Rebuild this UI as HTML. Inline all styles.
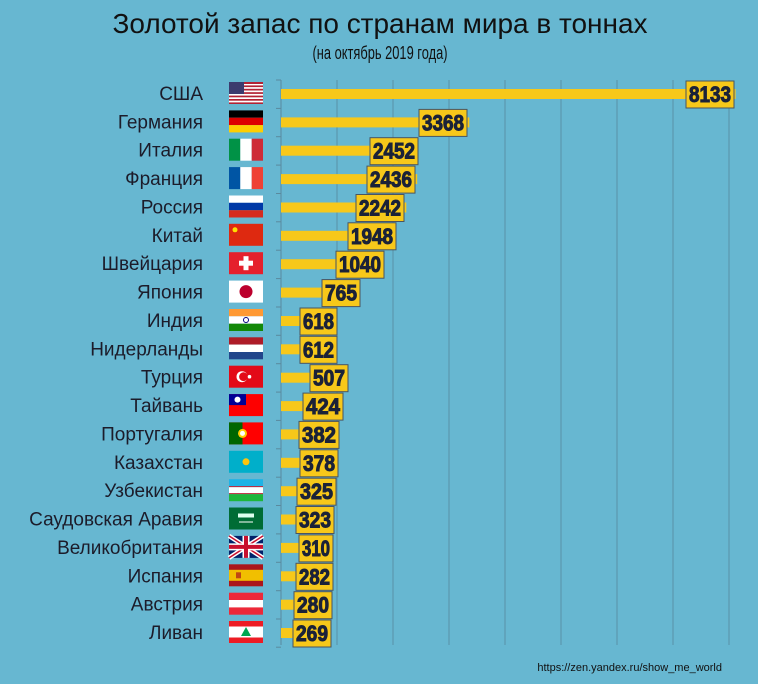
<!DOCTYPE html><html><head><meta charset="utf-8"><style>body{margin:0;background:#67b7d1}svg{display:block}</style></head><body>
<div id="wrap"></div>
<script>
var d=[["США",8133,686,48],["Германия",3368,419,48],["Италия",2452,370,48],["Франция",2436,367,48],["Россия",2242,356,48],["Китай",1948,348,48],["Швейцария",1040,336,48],["Япония",765,322,38],["Индия",618,300,37],["Нидерланды",612,300,37],["Турция",507,310,38],["Тайвань",424,303,40],["Португалия",382,299,40],["Казахстан",378,300,38],["Узбекистан",325,297,39],["Саудовская Аравия",323,296,38],["Великобритания",310,299,34],["Испания",282,296,37],["Австрия",280,294,38],["Ливан",269,293,38]];
var flags=[
'<rect width="34" height="22" fill="#fff"/><g fill="#b22234"><rect y="0" width="34" height="2"/><rect y="3.4" width="34" height="1.7"/><rect y="6.8" width="34" height="1.7"/><rect y="10.2" width="34" height="1.7"/><rect y="13.6" width="34" height="1.7"/><rect y="17" width="34" height="1.7"/><rect y="20.4" width="34" height="1.6"/></g><rect width="15" height="12" fill="#3c3b6e"/>',
'<rect width="34" height="7.3" fill="#000"/><rect y="7.3" width="34" height="7.4" fill="#dd0000"/><rect y="14.7" width="34" height="7.3" fill="#ffce00"/>',
'<rect width="11.3" height="22" fill="#009246"/><rect x="11.3" width="11.4" height="22" fill="#fff"/><rect x="22.7" width="11.3" height="22" fill="#ce2b37"/>',
'<rect width="11.3" height="22" fill="#0055a4"/><rect x="11.3" width="11.4" height="22" fill="#fff"/><rect x="22.7" width="11.3" height="22" fill="#ef4135"/>',
'<rect width="34" height="7.3" fill="#fff"/><rect y="7.3" width="34" height="7.4" fill="#0039a6"/><rect y="14.7" width="34" height="7.3" fill="#d52b1e"/>',
'<rect width="34" height="22" fill="#de2910"/><circle cx="6" cy="6" r="2.5" fill="#ffde00"/>',
'<rect width="34" height="22" fill="#e5202c"/><rect x="14.5" y="4" width="5" height="14" fill="#fff"/><rect x="10" y="8.5" width="14" height="5" fill="#fff"/>',
'<rect width="34" height="22" fill="#fff"/><circle cx="17" cy="11" r="6.5" fill="#bc002d"/>',
'<rect width="34" height="7.3" fill="#ff9933"/><rect y="7.3" width="34" height="7.4" fill="#fff"/><rect y="14.7" width="34" height="7.3" fill="#138808"/><circle cx="17" cy="11" r="2.5" fill="none" stroke="#000080"/>',
'<rect width="34" height="7.3" fill="#ae1c28"/><rect y="7.3" width="34" height="7.4" fill="#fff"/><rect y="14.7" width="34" height="7.3" fill="#21468b"/>',
'<rect width="34" height="22" fill="#e30a17"/><circle cx="13" cy="11" r="5.5" fill="#fff"/><circle cx="14.5" cy="11" r="4.4" fill="#e30a17"/><circle cx="20.5" cy="11" r="1.8" fill="#fff"/>',
'<rect width="34" height="22" fill="#fe0000"/><rect width="17" height="11" fill="#000095"/><circle cx="8.5" cy="5.5" r="3" fill="#fff"/>',
'<rect width="34" height="22" fill="#ff0000"/><rect width="13.5" height="22" fill="#006600"/><circle cx="13.5" cy="11" r="4.5" fill="#ffcc00"/><circle cx="13.5" cy="11" r="2.5" fill="#fff"/>',
'<rect width="34" height="22" fill="#00afca"/><circle cx="17" cy="11" r="3.5" fill="#fec50c"/>',
'<rect width="34" height="7" fill="#1eb3e6"/><rect y="7" width="34" height="1" fill="#ce1126"/><rect y="8" width="34" height="6" fill="#fff"/><rect y="14" width="34" height="1" fill="#ce1126"/><rect y="15" width="34" height="7" fill="#1eb53a"/>',
'<rect width="34" height="22" fill="#006c35"/><rect x="9" y="6" width="16" height="4" fill="#dfe"/><rect x="10" y="14" width="14" height="1" fill="#fff"/>',
'<rect width="34" height="22" fill="#012169"/><path d="M0 0L34 22M34 0L0 22" stroke="#fff" stroke-width="4.5"/><path d="M0 0L34 22M34 0L0 22" stroke="#c8102e" stroke-width="1.5"/><path d="M17 0V22M0 11H34" stroke="#fff" stroke-width="7"/><path d="M17 0V22M0 11H34" stroke="#c8102e" stroke-width="4"/>',
'<rect width="34" height="22" fill="#aa151b"/><rect y="5.5" width="34" height="11" fill="#f1bf00"/><rect x="7" y="8" width="5" height="6" fill="#aa151b" opacity=".7"/>',
'<rect width="34" height="22" fill="#ed2939"/><rect y="7.3" width="34" height="7.4" fill="#fff"/>',
'<rect width="34" height="22" fill="#ed1c24"/><rect y="5.5" width="34" height="11" fill="#fff"/><path d="M17 6L22 15H12Z" fill="#00a651"/>'
];
var h='<svg width="758" height="684" xmlns="http://www.w3.org/2000/svg" font-family="Liberation Sans, sans-serif">';
h+='<rect width="758" height="684" fill="#67b7d1"/>';
h+='<text x="380" y="33" text-anchor="middle" font-size="28" fill="#111" textLength="535" lengthAdjust="spacingAndGlyphs">Золотой запас по странам мира в тоннах</text>';
h+='<text x="380" y="59" text-anchor="middle" font-size="18" fill="#111" textLength="135" lengthAdjust="spacingAndGlyphs">(на октябрь 2019 года)</text>';
h+='<line x1="281" y1="80" x2="281" y2="645" stroke="#5a8a9e"/>';
for(var k=1;k<=8;k++){var gx=281+56*k;h+='<line x1="'+gx+'" y1="80" x2="'+gx+'" y2="645" stroke="#5a92a8"/>';}
h+='<g font-size="19" fill="#1c1c2a">';
for(var i=0;i<d.length;i++){var r=d[i],yc=94+28.37*i;
var end=Math.max(281+r[1]*0.0559,r[2]+10);
h+='<line x1="276" y1="'+(yc-14).toFixed(1)+'" x2="281" y2="'+(yc-14).toFixed(1)+'" stroke="#5a8a9e"/>';
h+='<text x="203" y="'+(yc+6).toFixed(1)+'" text-anchor="end">'+r[0]+'</text>';
h+='<g transform="translate(229,'+(yc-12).toFixed(1)+')">'+flags[i]+'</g>';
h+='<rect x="281" y="'+(yc-5).toFixed(1)+'" width="'+(end-281).toFixed(1)+'" height="10" fill="#f7c81a"/>';
h+='<rect x="'+r[2]+'" y="'+(yc-13).toFixed(1)+'" width="'+r[3]+'" height="27" fill="#f7c81a" stroke="#4a5560" stroke-width="1"/>';
h+='<text x="'+(r[2]+r[3]/2)+'" y="'+(yc+8).toFixed(1)+'" text-anchor="middle" font-weight="bold" font-size="22" fill="#1b2238" stroke="#1b2238" stroke-width="1" textLength="'+(r[3]-6)+'" lengthAdjust="spacingAndGlyphs">'+r[1]+'</text>';}
h+='</g>';
h+='<line x1="276" y1="'+(94+28.37*19.5).toFixed(1)+'" x2="281" y2="'+(94+28.37*19.5).toFixed(1)+'" stroke="#5a8a9e"/>';
h+='<text x="722" y="671" text-anchor="end" font-size="11" fill="#111">https://zen.yandex.ru/show_me_world</text>';
h+='</svg>';
document.getElementById('wrap').innerHTML=h;
</script>
</body></html>
